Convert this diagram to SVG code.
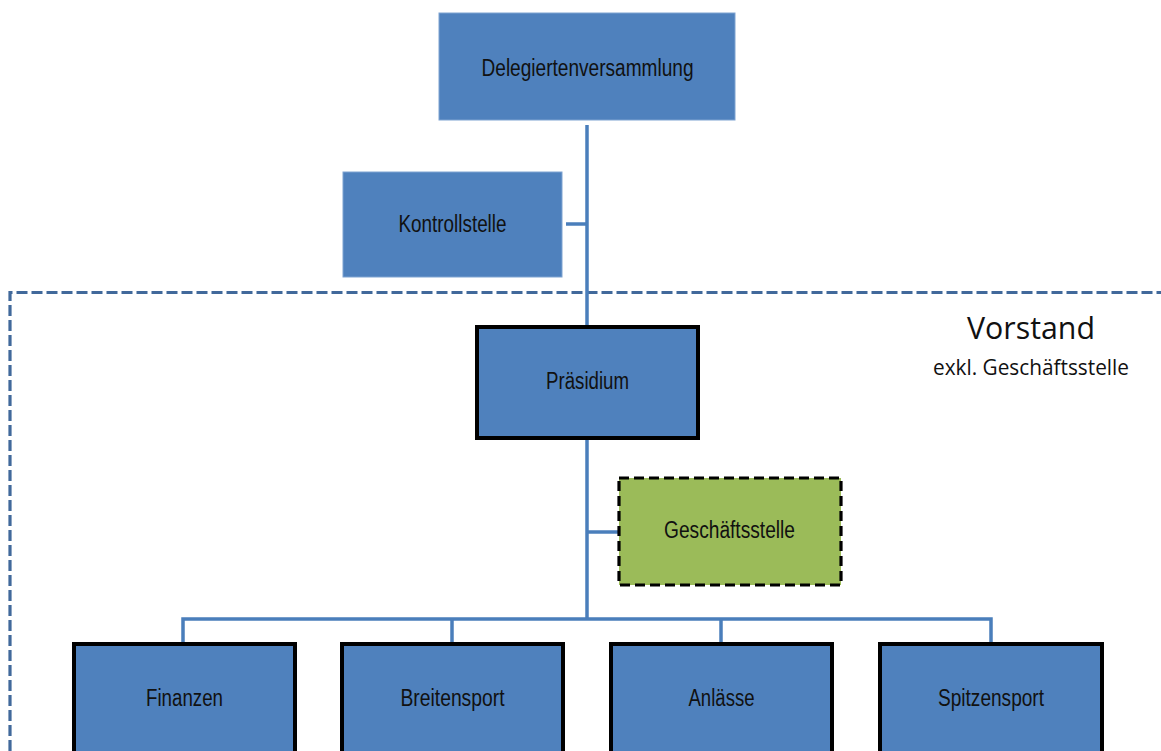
<svg xmlns="http://www.w3.org/2000/svg" width="1161" height="751" viewBox="0 0 1161 751">
  <style>
    .lbl { font-family: "Liberation Sans", Arial, sans-serif; font-size: 23.5px; fill: #111; text-anchor: middle; }
    .top { fill: #4F81BD; stroke: #7FA3D1; stroke-width: 1; }
    .box { fill: #4F81BD; stroke: #000; stroke-width: 4; }
    .gs { fill: #9BBB59; stroke: #000; stroke-width: 3.2; stroke-dasharray: 10 5; }
    .conn { fill: none; stroke: #4A7EBB; stroke-width: 3.5; }
    .frame { fill: none; stroke: #41699B; stroke-width: 3.2; stroke-dasharray: 11 4; }
    .cal { font-family: "Open Sans", "Noto Sans", sans-serif; fill: #111; text-anchor: middle; }
  </style>
  <rect width="1161" height="751" fill="#fff"/>
  <g id="vorstand-frame">
    <path class="frame" d="M10,751 V292.5 H1161"/>
    <text class="cal" x="1031" y="339" font-size="31" textLength="128" lengthAdjust="spacingAndGlyphs">Vorstand</text>
    <text class="cal" x="1031" y="375" font-size="21" textLength="196" lengthAdjust="spacingAndGlyphs">exkl. Geschäftsstelle</text>
  </g>
  <g id="connectors">
    <path class="conn" d="M587,125 V619"/>
    <path class="conn" d="M566,224 H587"/>
    <path class="conn" d="M587,532 H619"/>
    <path class="conn" d="M183,642 V619 H991 V642"/>
    <path class="conn" d="M452,619 V642"/>
    <path class="conn" d="M721,619 V642"/>
  </g>
  <g id="delegiertenversammlung">
    <rect class="top" x="439" y="13" width="296" height="107"/>
    <text class="lbl" x="587.5" y="76" textLength="212" lengthAdjust="spacingAndGlyphs">Delegiertenversammlung</text>
  </g>
  <g id="kontrollstelle">
    <rect class="top" x="343" y="172" width="219" height="105"/>
    <text class="lbl" x="452.5" y="232" textLength="108" lengthAdjust="spacingAndGlyphs">Kontrollstelle</text>
  </g>
  <g id="praesidium">
    <rect class="box" x="477" y="327" width="221" height="111"/>
    <text class="lbl" x="587.5" y="389" textLength="83" lengthAdjust="spacingAndGlyphs">Präsidium</text>
  </g>
  <g id="geschaeftsstelle">
    <rect class="gs" x="619" y="478" width="222" height="107"/>
    <text class="lbl" x="729.5" y="538" textLength="131" lengthAdjust="spacingAndGlyphs">Geschäftsstelle</text>
  </g>
  <g id="finanzen">
    <rect class="box" x="74" y="644" width="221" height="130"/>
    <text class="lbl" x="184.5" y="706" textLength="77" lengthAdjust="spacingAndGlyphs">Finanzen</text>
  </g>
  <g id="breitensport">
    <rect class="box" x="342" y="644" width="221" height="130"/>
    <text class="lbl" x="452.5" y="706" textLength="104" lengthAdjust="spacingAndGlyphs">Breitensport</text>
  </g>
  <g id="anlaesse">
    <rect class="box" x="611" y="644" width="221" height="130"/>
    <text class="lbl" x="721.5" y="706" textLength="66" lengthAdjust="spacingAndGlyphs">Anlässe</text>
  </g>
  <g id="spitzensport">
    <rect class="box" x="880" y="644" width="222" height="130"/>
    <text class="lbl" x="991" y="706" textLength="106" lengthAdjust="spacingAndGlyphs">Spitzensport</text>
  </g>
</svg>
